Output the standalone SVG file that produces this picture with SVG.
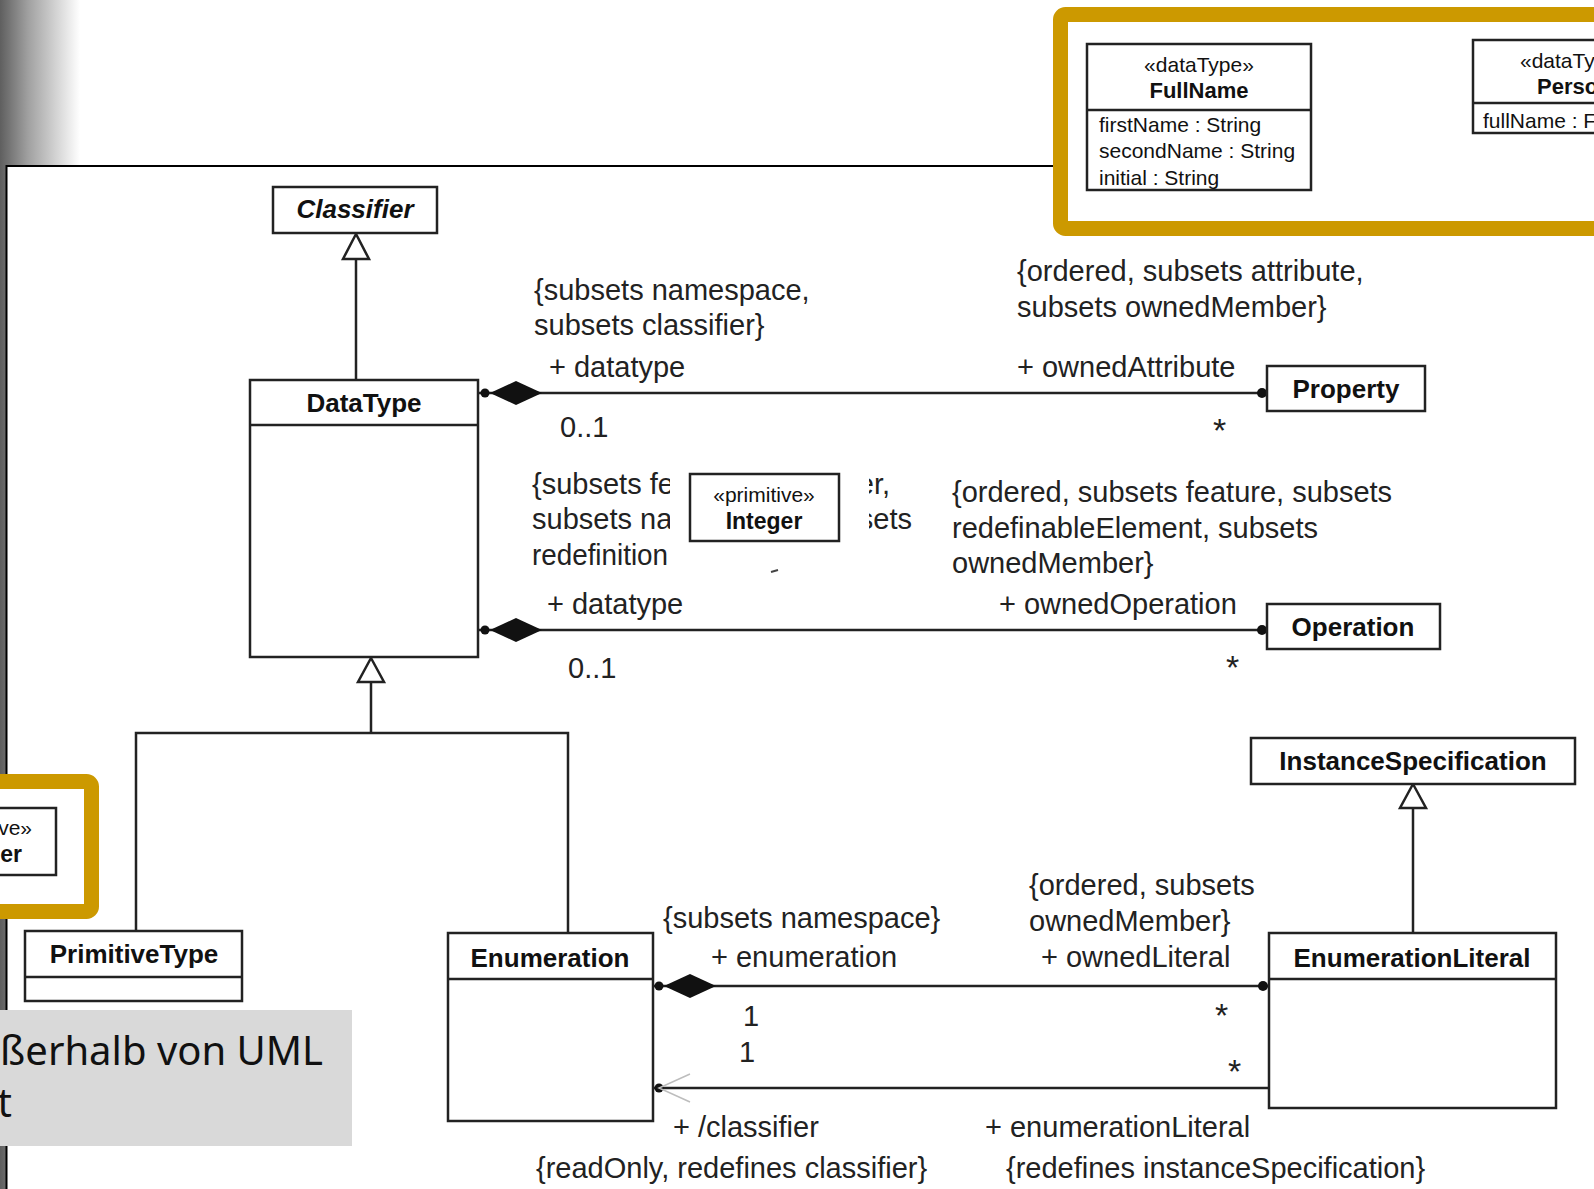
<svg xmlns="http://www.w3.org/2000/svg" width="1594" height="1189" viewBox="0 0 1594 1189">
  <defs>
    <linearGradient id="slideEdge" x1="0" y1="0" x2="1" y2="0">
      <stop offset="0" stop-color="#5f5f5f"/>
      <stop offset="0.35" stop-color="#a0a0a0"/>
      <stop offset="1" stop-color="#ffffff"/>
    </linearGradient>
    <style>
      .box { fill: #ffffff; stroke: #222222; stroke-width: 2.5; }
      .div { stroke: #222222; stroke-width: 2.5; }
      .name { font-family: "Liberation Sans", Arial, sans-serif; font-weight: bold; font-size: 26px; text-anchor: middle; fill: #111111; }
      .stereo { font-family: "Liberation Sans", Arial, sans-serif; font-size: 21px; text-anchor: middle; fill: #111111; }
      .attr { font-family: "Liberation Sans", Arial, sans-serif; font-size: 21px; fill: #111111; }
      .lbl { font-family: "Liberation Sans", Arial, sans-serif; font-size: 29px; fill: #222222; }
      .mult { font-size: 34px; }
      .edge { stroke: #222222; stroke-width: 2.5; fill: none; }
      .solid { fill: #111111; }
      .hollow { fill: #ffffff; stroke: #222222; stroke-width: 2.5; stroke-linejoin: miter; }
      .gold { fill: #ffffff; stroke: #cc9900; stroke-width: 15; }
      .note { font-family: "Noto Sans", "Liberation Sans", sans-serif; font-size: 40px; fill: #111111; text-anchor: end; }
    </style>
  </defs>

  <!-- slide background with darker left edge -->
  <rect x="0" y="0" width="1594" height="1189" fill="#ffffff"/>
  <rect x="0" y="0" width="80" height="1189" fill="url(#slideEdge)"/>

  <!-- diagram sheet -->
  <rect x="6.5" y="166" width="1620" height="1060" fill="#ffffff" stroke="#000000" stroke-width="2"/>

  <!-- connectors -->
  <g id="connectors">
    <!-- DataType generalizes Classifier -->
    <line class="edge" x1="356" y1="259" x2="356" y2="380"/>
    <polygon class="hollow" points="356,234 343,259 369,259"/>

    <!-- PrimitiveType / Enumeration generalize DataType -->
    <polyline class="edge" points="136,931 136,733 568,733 568,933"/>
    <line class="edge" x1="371" y1="682" x2="371" y2="733"/>
    <polygon class="hollow" points="371,658 358,682 384,682"/>

    <!-- EnumerationLiteral generalizes InstanceSpecification -->
    <line class="edge" x1="1413" y1="808" x2="1413" y2="933"/>
    <polygon class="hollow" points="1413,784 1400,808 1426,808"/>

    <!-- DataType ◆— Property -->
    <line class="edge" x1="478" y1="393" x2="1267" y2="393"/>
    <circle class="solid" cx="485" cy="393" r="4.5"/>
    <polygon class="solid" points="490,393 516,381 542,393 516,405"/>
    <circle class="solid" cx="1262" cy="393" r="5"/>

    <!-- DataType ◆— Operation -->
    <line class="edge" x1="478" y1="630" x2="1267" y2="630"/>
    <circle class="solid" cx="485" cy="630" r="4.5"/>
    <polygon class="solid" points="490,630 516,618 542,630 516,642"/>
    <circle class="solid" cx="1262" cy="630" r="5"/>

    <!-- Enumeration ◆— EnumerationLiteral -->
    <line class="edge" x1="653" y1="986" x2="1269" y2="986"/>
    <circle class="solid" cx="659" cy="986" r="4.5"/>
    <polygon class="solid" points="664,986 690,974 716,986 690,998"/>
    <circle class="solid" cx="1263" cy="986" r="5"/>

    <!-- EnumerationLiteral → Enumeration (classifier) -->
    <line class="edge" x1="653" y1="1088" x2="1269" y2="1088"/>
    <circle class="solid" cx="659" cy="1088" r="4.5"/>
    <polyline points="690,1074 659,1088 690,1102" fill="none" stroke="#bdbdbd" stroke-width="1.5"/>
  </g>

  <!-- association end labels -->
  <g id="end-labels" class="lbl">
    <text x="534" y="300">{subsets namespace,</text>
    <text x="534" y="335">subsets classifier}</text>
    <text x="549" y="377">+ datatype</text>
    <text x="560" y="437">0..1</text>
    <text x="1017" y="281">{ordered, subsets attribute,</text>
    <text x="1017" y="317">subsets ownedMember}</text>
    <text x="1017" y="377">+ ownedAttribute</text>
    <text class="mult" x="1213" y="442">*</text>

    <text x="532" y="494">{subsets fe</text>
    <text x="532" y="529">subsets na</text>
    <text x="532" y="565" textLength="136" lengthAdjust="spacingAndGlyphs">redefinition</text>
    <text x="890" y="494" style="text-anchor:end">er,</text>
    <text x="912" y="529" style="text-anchor:end">sets</text>
    <text x="952" y="502">{ordered, subsets feature, subsets</text>
    <text x="952" y="538">redefinableElement, subsets</text>
    <text x="952" y="573">ownedMember}</text>
    <text x="547" y="614">+ datatype</text>
    <text x="999" y="614">+ ownedOperation</text>
    <text x="568" y="678">0..1</text>
    <text class="mult" x="1226" y="679">*</text>

    <text x="663" y="928">{subsets namespace}</text>
    <text x="711" y="967">+ enumeration</text>
    <text x="743" y="1026">1</text>
    <text x="1029" y="895">{ordered, subsets</text>
    <text x="1029" y="931">ownedMember}</text>
    <text x="1041" y="967">+ ownedLiteral</text>
    <text class="mult" x="1215" y="1027">*</text>

    <text x="739" y="1062">1</text>
    <text class="mult" x="1228" y="1083">*</text>
    <text x="673" y="1137">+ /classifier</text>
    <text x="536" y="1178">{readOnly, redefines classifier}</text>
    <text x="985" y="1137">+ enumerationLiteral</text>
    <text x="1006" y="1178">{redefines instanceSpecification}</text>
  </g>

  <!-- classes -->
  <g id="Classifier">
    <rect class="box" x="273" y="187" width="164" height="46"/>
    <text class="name" x="355" y="218" style="font-style:italic">Classifier</text>
  </g>

  <g id="DataType">
    <rect class="box" x="250" y="380" width="228" height="277"/>
    <line class="div" x1="250" y1="425" x2="478" y2="425"/>
    <text class="name" x="364" y="412">DataType</text>
  </g>

  <g id="Property">
    <rect class="box" x="1267" y="366" width="158" height="45"/>
    <text class="name" x="1346" y="398">Property</text>
  </g>

  <g id="Operation">
    <rect class="box" x="1267" y="604" width="173" height="45"/>
    <text class="name" x="1353" y="636">Operation</text>
  </g>

  <g id="InstanceSpecification">
    <rect class="box" x="1251" y="738" width="324" height="46"/>
    <text class="name" x="1413" y="770">InstanceSpecification</text>
  </g>

  <g id="PrimitiveType">
    <rect class="box" x="25" y="931" width="217" height="70"/>
    <line class="div" x1="25" y1="977" x2="242" y2="977"/>
    <text class="name" x="134" y="963">PrimitiveType</text>
  </g>

  <g id="Enumeration">
    <rect class="box" x="448" y="933" width="205" height="188"/>
    <line class="div" x1="448" y1="979" x2="653" y2="979"/>
    <text class="name" x="550" y="967">Enumeration</text>
  </g>

  <g id="EnumerationLiteral">
    <rect class="box" x="1269" y="933" width="287" height="175"/>
    <line class="div" x1="1269" y1="979" x2="1556" y2="979"/>
    <text class="name" x="1412" y="967">EnumerationLiteral</text>
  </g>

  <!-- Integer example placed over the operation end labels -->
  <g id="Integer">
    <rect x="670" y="458" width="199" height="110" fill="#ffffff"/>
    <path d="M771,572 L778,570" stroke="#444444" stroke-width="2"/>
    <rect class="box" x="690" y="474" width="149" height="67"/>
    <text class="stereo" x="764" y="502">«primitive»</text>
    <text class="name" x="764" y="529" style="font-size:23px">Integer</text>
  </g>

  <!-- highlighted example: primitive type at the left edge -->
  <g id="IntegerExample">
    <rect class="gold" x="-20" y="781.5" width="111.5" height="130" rx="5"/>
    <rect class="box" x="-94" y="808" width="150" height="67"/>
    <text class="stereo" x="32" y="835" style="text-anchor:end">ve»</text>
    <text class="name" x="22" y="862" style="font-size:23px;text-anchor:end">er</text>
  </g>

  <!-- highlighted example: data types at the top right -->
  <g id="DataTypeExamples">
    <rect class="gold" x="1060.5" y="14.5" width="600" height="214" rx="5"/>
    <g id="FullName">
      <rect class="box" x="1087" y="44" width="224" height="146"/>
      <line class="div" x1="1087" y1="110" x2="1311" y2="110"/>
      <text class="stereo" x="1199" y="72">«dataType»</text>
      <text class="name" x="1199" y="98" style="font-size:22px">FullName</text>
      <text class="attr" x="1099" y="132">firstName : String</text>
      <text class="attr" x="1099" y="158">secondName : String</text>
      <text class="attr" x="1099" y="185">initial : String</text>
    </g>
    <g id="Person">
      <rect class="box" x="1473" y="40" width="200" height="93"/>
      <line class="div" x1="1473" y1="103" x2="1673" y2="103"/>
      <text class="attr" x="1520" y="68">«dataTy</text>
      <text class="name" x="1537" y="94" style="font-size:22px;text-anchor:start">Perso</text>
      <text class="attr" x="1483" y="128">fullName : F</text>
    </g>
  </g>

  <!-- caption box -->
  <g id="caption">
    <rect x="0" y="1010" width="352" height="136" fill="#d9d9d9"/>
    <text class="note" x="323" y="1065">ßerhalb von UML</text>
    <text class="note" x="12" y="1117">t</text>
  </g>
</svg>
